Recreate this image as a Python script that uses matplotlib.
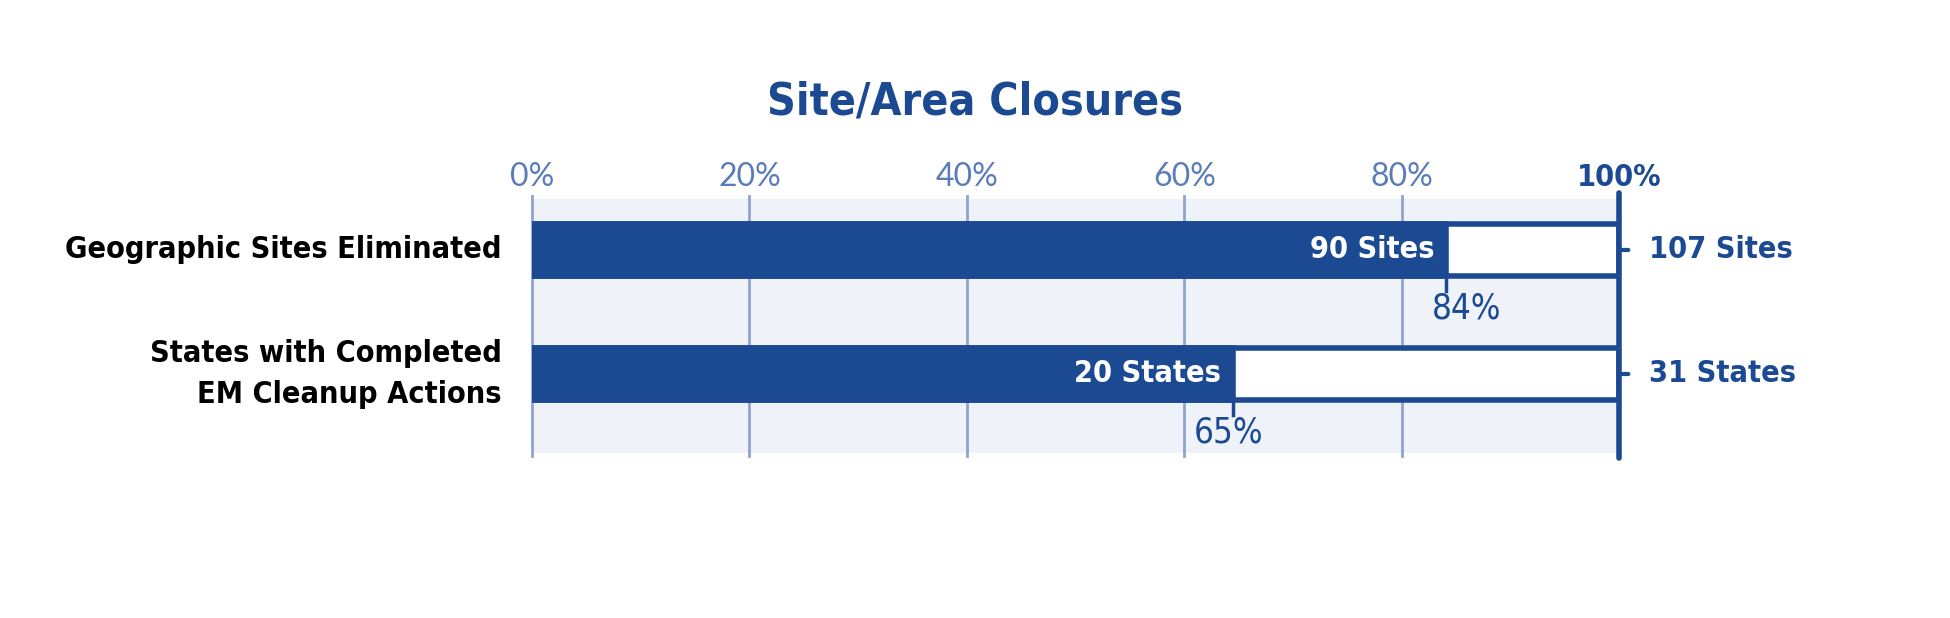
import matplotlib
matplotlib.use("Agg")
import matplotlib.pyplot as plt
from matplotlib import font_manager
import numpy as np

# data
categories = ["Geographic Sites Eliminated", "States with Completed\nEM Cleanup Actions"]
done = [90, 20]
total = [107, 31]
units = ["Sites", "States"]
tick_vals = [0, 20, 40, 60, 80, 100]
tick_labels = ["0%", "20%", "40%", "60%", "80%", "100%"]

dark = "#1B4A93"
grid_c = "#8EA5D0"
panel_c = "#EFF2F8"
tick_c = "#5A7DB9"
pct_dx = [20, -5]   # pixel nudge of the % labels under the bars

names = set(f.name for f in font_manager.fontManager.ttflist)
if "Liberation Sans Narrow" in names:
    narrow = dict(family="Liberation Sans Narrow")
else:
    narrow = dict(family="DejaVu Sans", stretch="condensed")
light_fam = "Lato" if "Lato" in names else "DejaVu Sans"

pct = np.array(done) / np.array(total) * 100
y = np.arange(len(categories))

fig = plt.figure(figsize=(19.5, 6.18), dpi=100)
ax = fig.add_axes([0.2728, 0.267, 0.5575, 0.411])
ax.set_facecolor(panel_c)
ax.set_xlim(0, 100)
ax.set_ylim(1.637, -0.411)
for s in ax.spines.values():
    s.set_visible(False)

for v in tick_vals[:-1]:
    ax.axvline(v, ymin=-0.01, ymax=1.01, color=grid_c, lw=2, clip_on=False, zorder=1)
ax.axvline(100, ymin=-0.02, ymax=1.025, color=dark, lw=4, clip_on=False, zorder=5,
           solid_capstyle="round")

bh = 0.42
# outline of full bar, then filled part
ax.barh(y, [100] * len(y), height=bh, color="white", edgecolor=dark, linewidth=4, zorder=2)
ax.barh(y, pct, height=bh, color=dark, edgecolor=dark, linewidth=4, zorder=3)

for i in range(len(y)):
    ax.annotate(f"{done[i]} {units[i]}", (pct[i], y[i]), xytext=(-12, 0),
                textcoords="offset pixels", ha="right", va="center",
                color="white", fontsize=22, fontweight="bold", zorder=6, **narrow)
    ax.plot([pct[i], pct[i]], [y[i] + bh / 2, y[i] + 0.33], color=dark, lw=2.5, zorder=4)
    ax.annotate(f"{round(pct[i])}%", (pct[i], y[i] + 0.47), xytext=(pct_dx[i], 0),
                textcoords="offset pixels", ha="center", va="center",
                color=dark, fontsize=25, **narrow)
    ax.annotate("", (100, y[i]), xytext=(12, 0), textcoords="offset pixels",
                arrowprops=dict(arrowstyle="-", color=dark, lw=3), annotation_clip=False)
    ax.annotate(f"{total[i]} {units[i]}", (100, y[i]), xytext=(30, 0),
                textcoords="offset pixels", ha="left", va="center", color=dark,
                fontsize=22, fontweight="bold", annotation_clip=False, **narrow)

ax.set_yticks([])
ax.xaxis.tick_top()
ax.set_xticks(tick_vals)
ax.set_xticklabels(tick_labels)
ax.tick_params(axis="x", length=0, pad=5)
for lab in ax.get_xticklabels():
    lab.set_fontsize(23)
    lab.set_fontfamily(light_fam)
    lab.set_color(tick_c)
last = ax.get_xticklabels()[-1]
last.set_color(dark)
last.set_fontweight("bold")
last.set_fontfamily(narrow["family"])
if "stretch" in narrow:
    last.set_fontstretch(narrow["stretch"])
last.set_fontsize(22)

for i, c in enumerate(categories):
    ax.text(-0.028, 1 - (y[i] - ax.get_ylim()[1]) / (ax.get_ylim()[0] - ax.get_ylim()[1]),
            c, transform=ax.transAxes, ha="right", va="center", color="black",
            fontsize=22, fontweight="bold", linespacing=1.55, multialignment="right", **narrow)

fig.text(0.5, 0.835, "Site/Area Closures", ha="center", va="center", color=dark,
         fontsize=32, fontweight="bold", **narrow)

fig.savefig("out.png", dpi=100, facecolor="white")
